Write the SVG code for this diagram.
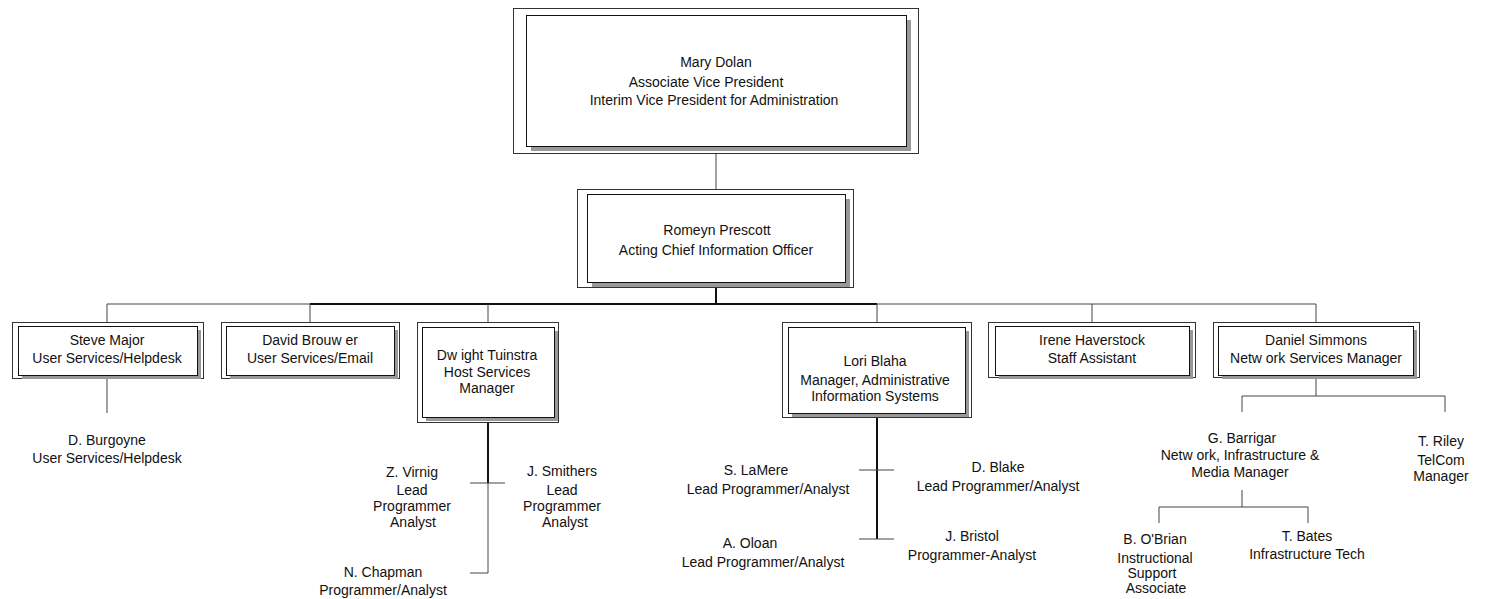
<svg xmlns="http://www.w3.org/2000/svg" width="1485" height="599" viewBox="0 0 1485 599">
<style>
.outer{fill:#fff;stroke:#333;stroke-width:1}
.shadow{fill:#999;stroke:none}
.inner{fill:#fff;stroke:#111;stroke-width:1}
text{font-family:"Liberation Sans",Arial,sans-serif;font-size:14px;fill:#111;text-anchor:middle}
.ln{stroke:#444;stroke-width:1;fill:none}
.thk{stroke:#111;stroke-width:2;fill:none}
</style>
<rect width="1485" height="599" fill="#fff"/>
<g id="connectors">
<line class="ln" x1="716" y1="153" x2="716" y2="189"/>
<line class="thk" x1="716" y1="287" x2="716" y2="304"/>
<line class="ln" x1="107" y1="304" x2="310" y2="304"/>
<line class="thk" x1="310" y1="304" x2="877" y2="304"/>
<line class="ln" x1="877" y1="304" x2="1316" y2="304"/>
<line class="ln" x1="107" y1="304" x2="107" y2="322"/>
<line class="ln" x1="310" y1="304" x2="310" y2="322"/>
<line class="ln" x1="488" y1="304" x2="488" y2="322"/>
<line class="ln" x1="877" y1="304" x2="877" y2="322"/>
<line class="ln" x1="1092" y1="304" x2="1092" y2="322"/>
<line class="ln" x1="1316" y1="304" x2="1316" y2="322"/>
<line class="ln" x1="107" y1="378" x2="107" y2="413"/>
<line class="thk" x1="488" y1="423" x2="488" y2="483"/>
<line class="ln" x1="488" y1="483" x2="488" y2="573"/>
<line class="ln" x1="470" y1="483" x2="505" y2="483"/>
<line class="ln" x1="470" y1="573" x2="488" y2="573"/>
<line class="thk" x1="877" y1="417" x2="877" y2="539"/>
<line class="ln" x1="859" y1="470" x2="894" y2="470"/>
<line class="ln" x1="859" y1="539" x2="894" y2="539"/>
<line class="ln" x1="1316" y1="377" x2="1316" y2="396"/>
<line class="ln" x1="1242" y1="396" x2="1445" y2="396"/>
<line class="ln" x1="1242" y1="396" x2="1242" y2="412"/>
<line class="ln" x1="1445" y1="396" x2="1445" y2="412"/>
<line class="ln" x1="1242" y1="490" x2="1242" y2="507"/>
<line class="ln" x1="1159" y1="507" x2="1308" y2="507"/>
<line class="ln" x1="1159" y1="507" x2="1159" y2="523"/>
<line class="ln" x1="1308" y1="507" x2="1308" y2="523"/>
</g>
<g id="mary-dolan">
<rect class="outer" x="513.5" y="8.5" width="405" height="145"/>
<rect class="shadow" x="531" y="20" width="380" height="131"/>
<rect class="inner" x="526.5" y="15.5" width="380" height="131"/>
<text x="716" y="67">Mary Dolan</text>
<text x="706" y="87">Associate Vice President</text>
<text x="714" y="105">Interim Vice President for Administration</text>
</g>
<g id="romeyn-prescott">
<rect class="outer" x="577.5" y="189.5" width="276" height="98"/>
<rect class="shadow" x="592" y="199" width="258" height="88"/>
<rect class="inner" x="587.5" y="194.5" width="258" height="88"/>
<text x="717" y="235">Romeyn Prescott</text>
<text x="716" y="255">Acting Chief Information Officer</text>
</g>
<g id="steve-major">
<rect class="outer" x="12.5" y="322.5" width="191" height="56"/>
<rect class="shadow" x="22" y="330" width="179" height="49"/>
<rect class="inner" x="18.5" y="326.5" width="179" height="49"/>
<text x="107" y="345">Steve Major</text>
<text x="107" y="363">User Services/Helpdesk</text>
</g>
<g id="david-brouwer">
<rect class="outer" x="221.5" y="322.5" width="178" height="56"/>
<rect class="shadow" x="230" y="330" width="168" height="49"/>
<rect class="inner" x="226.5" y="326.5" width="168" height="49"/>
<text x="310" y="345">David Brouw er</text>
<text x="310" y="363">User Services/Email</text>
</g>
<g id="dwight-tuinstra">
<rect class="outer" x="417.5" y="322.5" width="141" height="100"/>
<rect class="shadow" x="426" y="331" width="132" height="90"/>
<rect class="inner" x="422.5" y="327.5" width="132" height="90"/>
<text x="487" y="360">Dw ight Tuinstra</text>
<text x="487" y="377">Host Services</text>
<text x="487" y="393">Manager</text>
</g>
<g id="lori-blaha">
<rect class="outer" x="782.5" y="322.5" width="189" height="95"/>
<rect class="shadow" x="792" y="331" width="177" height="86"/>
<rect class="inner" x="788.5" y="327.5" width="177" height="86"/>
<text x="875" y="366">Lori Blaha</text>
<text x="875" y="385">Manager, Administrative</text>
<text x="875" y="401">Information Systems</text>
</g>
<g id="irene-haverstock">
<rect class="outer" x="988.5" y="322.5" width="207" height="55"/>
<rect class="shadow" x="999" y="330" width="194" height="49"/>
<rect class="inner" x="995.5" y="326.5" width="194" height="49"/>
<text x="1092" y="345">Irene Haverstock</text>
<text x="1092" y="363">Staff Assistant</text>
</g>
<g id="daniel-simmons">
<rect class="outer" x="1213.5" y="322.5" width="206" height="55"/>
<rect class="shadow" x="1222" y="330" width="195" height="49"/>
<rect class="inner" x="1218.5" y="326.5" width="195" height="49"/>
<text x="1316" y="345">Daniel Simmons</text>
<text x="1316" y="363">Netw ork Services Manager</text>
</g>
<g id="d-burgoyne">
<text x="107" y="445">D. Burgoyne</text>
<text x="107" y="463">User Services/Helpdesk</text>
</g>
<g id="z-virnig">
<text x="412" y="477">Z. Virnig</text>
<text x="412" y="495">Lead</text>
<text x="412" y="511">Programmer</text>
<text x="413" y="527">Analyst</text>
</g>
<g id="j-smithers">
<text x="562" y="476">J. Smithers</text>
<text x="562" y="495">Lead</text>
<text x="562" y="511">Programmer</text>
<text x="565" y="527">Analyst</text>
</g>
<g id="n-chapman">
<text x="383" y="577">N. Chapman</text>
<text x="383" y="595">Programmer/Analyst</text>
</g>
<g id="s-lamere">
<text x="756" y="475">S. LaMere</text>
<text x="768" y="494">Lead Programmer/Analyst</text>
</g>
<g id="d-blake">
<text x="998" y="472">D. Blake</text>
<text x="998" y="491">Lead Programmer/Analyst</text>
</g>
<g id="a-oloan">
<text x="750" y="548">A. Oloan</text>
<text x="763" y="567">Lead Programmer/Analyst</text>
</g>
<g id="j-bristol">
<text x="972" y="541">J. Bristol</text>
<text x="972" y="560">Programmer-Analyst</text>
</g>
<g id="g-barrigar">
<text x="1242" y="443">G. Barrigar</text>
<text x="1240" y="460">Netw ork, Infrastructure &amp;</text>
<text x="1240" y="477">Media Manager</text>
</g>
<g id="t-riley">
<text x="1441" y="446">T. Riley</text>
<text x="1441" y="465">TelCom</text>
<text x="1441" y="481">Manager</text>
</g>
<g id="b-obrian">
<text x="1155" y="544">B. O'Brian</text>
<text x="1155" y="563">Instructional</text>
<text x="1152" y="578">Support</text>
<text x="1156" y="593">Associate</text>
</g>
<g id="t-bates">
<text x="1307" y="541">T. Bates</text>
<text x="1307" y="559">Infrastructure Tech</text>
</g>
</svg>
